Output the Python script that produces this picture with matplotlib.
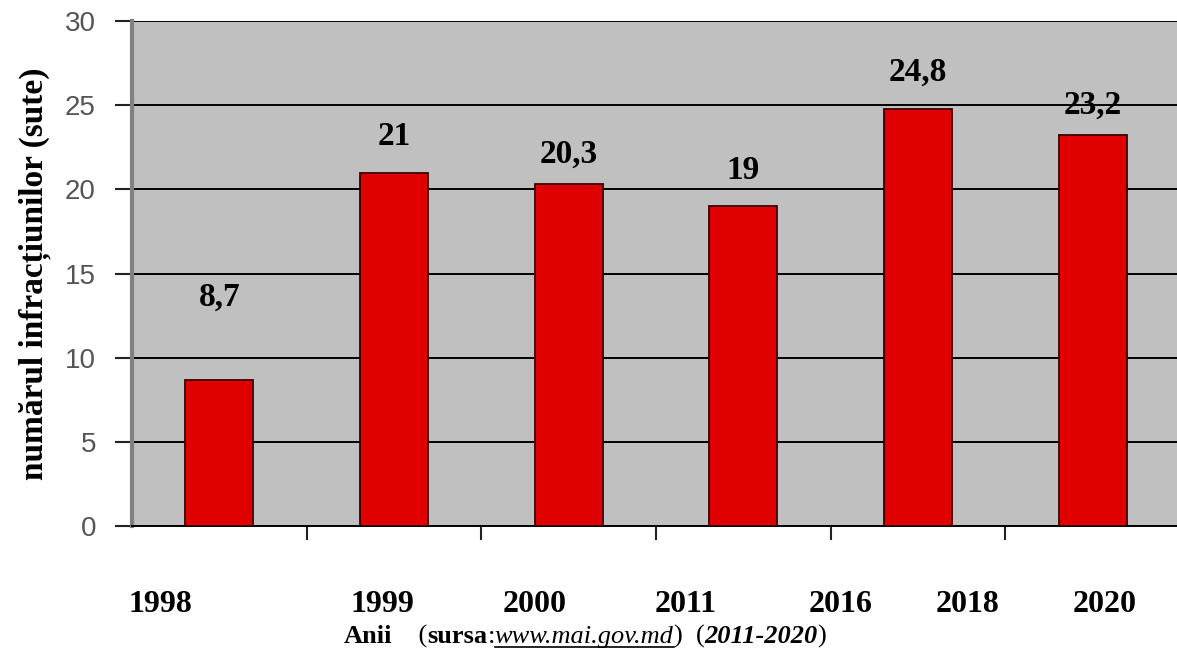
import matplotlib
matplotlib.use("Agg")
import matplotlib.pyplot as plt
from matplotlib.lines import Line2D

# numărul infracțiunilor, în sute
bar_values = [8.7, 21, 20.3, 19, 24.8, 23.2]
value_labels = ["8,7", "21", "20,3", "19", "24,8", "23,2"]
year_labels = ["1998", "1999", "2000", "2011", "2016", "2018", "2020"]
y_ticks = [0, 5, 10, 15, 20, 25, 30]

# where the year labels sit along the category axis
year_label_x = [-0.34, 0.934, 1.803, 2.671, 3.557, 4.286, 5.071]
# extra lift (pixels) of each value label above its bar
label_lift = [82, 36, 30, 36, 36, 30]

W, H, DPI = 1177, 652, 100
SERIF = "Liberation Serif"
SANS = "Liberation Sans"


def draw_chart():
    fig = plt.figure(figsize=(W / DPI, H / DPI), dpi=DPI)
    ax = fig.add_axes([132 / W, (H - 526) / H, 1048 / W, 505 / H])
    ax.set_facecolor("#c0c0c0")

    x = list(range(len(bar_values)))
    ax.bar(x, bar_values, width=0.39, color="#e00000",
           edgecolor="#3a0000", linewidth=1.3, zorder=3)

    for xi, v, txt, lift in zip(x, bar_values, value_labels, label_lift):
        ax.annotate(txt, (xi, v), xytext=(0, lift), textcoords="offset pixels",
                    ha="center", va="center", fontsize=24, fontweight="bold",
                    family=SERIF, color="black", zorder=4)

    ax.set_xlim(-0.5, len(bar_values) - 0.5)
    ax.set_ylim(0, 30)
    ax.set_yticks(y_ticks)
    ax.set_yticklabels([str(t) for t in y_ticks], fontsize=20,
                       family=SANS, color="#555555")
    ax.set_xticks([i + 0.5 for i in range(len(bar_values) - 1)])
    ax.set_xticklabels([])
    ax.tick_params(axis="y", length=12, width=1.5, color="#222222", pad=14)
    ax.tick_params(axis="x", length=10, width=1.5, color="#222222")

    ax.yaxis.grid(True, color="black", linewidth=1.4, zorder=1)
    ax.set_axisbelow(True)
    for side in ("top", "right"):
        ax.spines[side].set_visible(False)
    ax.spines["left"].set_color("#808080")
    ax.spines["left"].set_linewidth(3)
    ax.spines["bottom"].set_color("black")
    ax.spines["bottom"].set_linewidth(1.4)

    for lx, lab in zip(year_label_x, year_labels):
        ax.text(lx, -0.155, lab, transform=ax.get_xaxis_transform(),
                ha="center", va="center", fontsize=23, fontweight="bold",
                family=SERIF)

    fig.text(35 / W, 1 - 274 / H, "numărul infracțiunilor (sute)",
             rotation=90, ha="center", va="center", fontsize=24,
             fontweight="bold", family=SERIF)

    # bottom caption with mixed styles
    pieces = [
        ("Anii", "bold", "normal"),
        ("    (", "normal", "normal"),
        ("sursa", "bold", "normal"),
        (":", "normal", "normal"),
        ("www.mai.gov.md", "normal", "italic"),
        (")  (", "normal", "normal"),
        ("2011-2020", "bold", "italic"),
        (")", "normal", "normal"),
    ]
    renderer = fig.canvas.get_renderer()
    texts = []
    widths = []
    for s, weight, style in pieces:
        t = fig.text(0, 1 - 643 / H, s, fontsize=19, fontweight=weight,
                     fontstyle=style, family=SERIF, ha="left",
                     va="baseline")
        texts.append(t)
        widths.append(t.get_window_extent(renderer).width)
    pos = 585 - sum(widths) / 2
    for t, w, (s, _, _) in zip(texts, widths, pieces):
        t.set_x(pos / W)
        if s == "www.mai.gov.md":
            y_line = 1 - 647 / H
            fig.add_artist(Line2D([pos / W, (pos + w) / W], [y_line, y_line],
                                  color="black", linewidth=1.2))
        pos += w

    fig.savefig("out.png", dpi=DPI, facecolor="white")


if __name__ == "__main__":
    draw_chart()
